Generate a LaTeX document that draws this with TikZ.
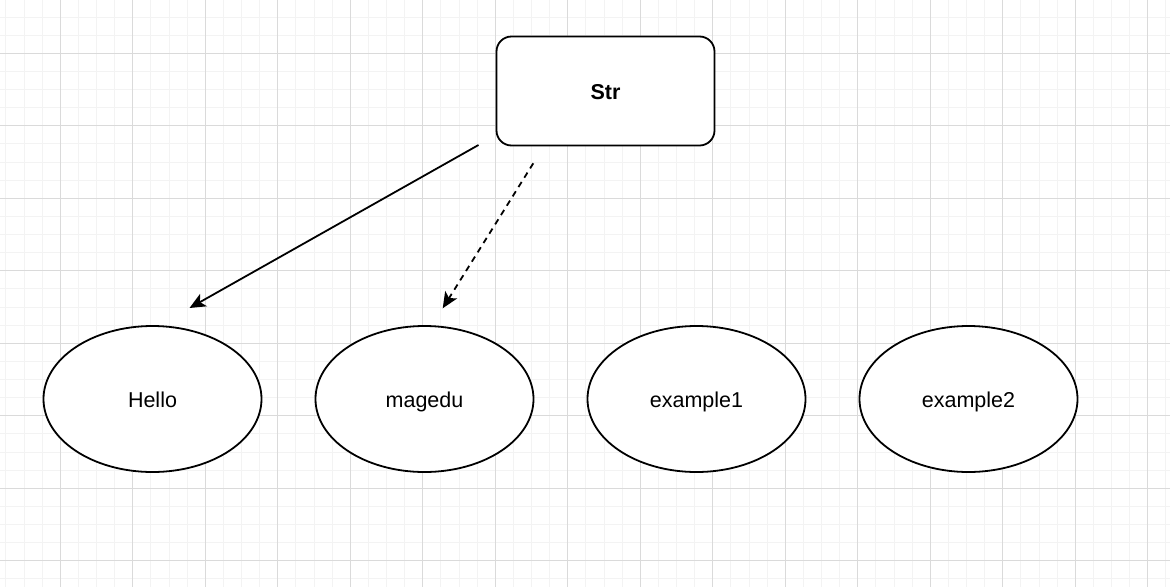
\documentclass[tikz,border=0pt]{standalone}
\usepackage{fontspec}
\setmainfont{Liberation Sans}
\usetikzlibrary{shapes.geometric,arrows.meta}
\definecolor{minorgrid}{HTML}{F3F3F3}
\definecolor{majorgrid}{HTML}{DADADA}
\tikzset{
  box/.style={draw, line width=1.8pt, rounded corners=15pt, fill=white,
    minimum width=218pt, minimum height=109pt, inner sep=0pt,
    text height=20pt, text depth=3.4pt,
    font=\fontsize{21.5}{25}\selectfont\bfseries},
  oval/.style={draw, ellipse, line width=1.8pt, fill=white,
    minimum width=218pt, minimum height=146pt, inner sep=0pt,
    text height=20pt, text depth=3.4pt,
    font=\fontsize{21.5}{25}\selectfont},
  link/.style={line width=1.8pt, -{Stealth[length=16pt,width=14pt,inset=4pt]}}
}
\begin{document}
\begin{tikzpicture}[x=1pt,y=-1pt]
  \useasboundingbox (0,0) rectangle (1170,587);
  \fill[white] (0,0) rectangle (1170,587);
  % grid
  \foreach \i in {0,...,64}
    \draw[minorgrid, line width=1pt] (5.9+18.125*\i,0) -- (5.9+18.125*\i,587);
  \foreach \j in {0,...,31}
    \draw[minorgrid, line width=1pt] (0,17.05+18.125*\j) -- (1170,17.05+18.125*\j);
  \foreach \i in {0,...,15}
    \draw[majorgrid, line width=1pt] (60.3+72.5*\i,0) -- (60.3+72.5*\i,587);
  \foreach \j in {0,...,7}
    \draw[majorgrid, line width=1pt] (0,53.3+72.5*\j) -- (1170,53.3+72.5*\j);

  \node[box] (str) at (605.5,91) {Str};
  \foreach \name/\txt [count=\i] in {hello/Hello, magedu/magedu, exone/example1, extwo/example2}
    \node[oval] (\name) at (152.5+272*\i-272,399) {\txt};

  \coordinate (solidfrom) at (478.5,145);
  \coordinate (solidto) at (189.5,308);
  \coordinate (dashfrom) at (533.3,163.3);
  \coordinate (dashto) at (442.7,308.3);
  \draw[link] (solidfrom) -- (solidto);
  \draw[link, dash pattern=on 6pt off 5pt] (dashfrom) -- (dashto);
\end{tikzpicture}
\end{document}
